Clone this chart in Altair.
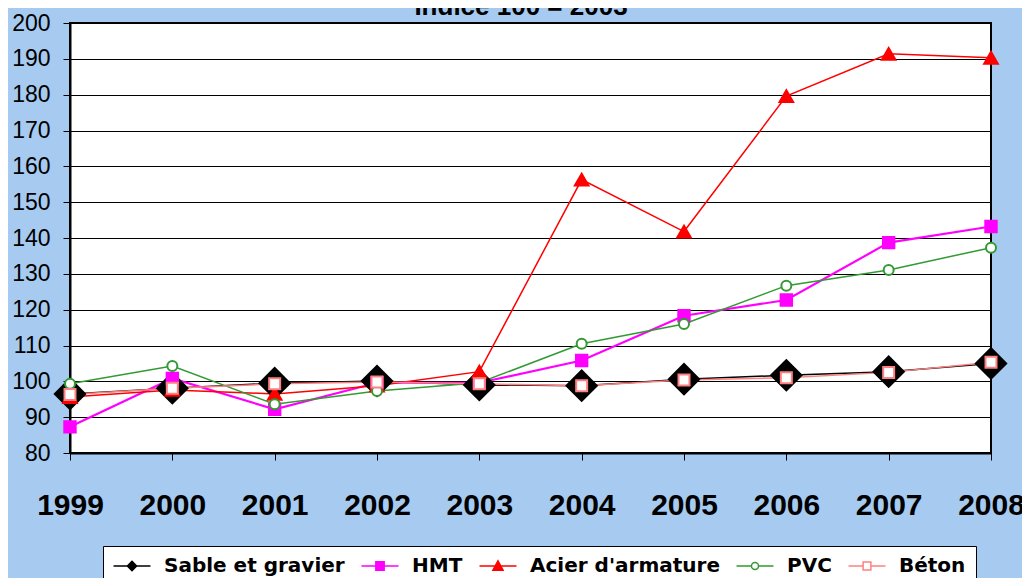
import altair as alt
import pandas as pd

title_text = ["Indice 100 = 2003"]
years = [1999, 2000, 2001, 2002, 2003, 2004, 2005, 2006, 2007, 2008]
series_names = ["Sable et gravier", "HMT", "Acier d'armature", "PVC", "Béton"]
sable = [96.5, 98.1, 99.5, 100.1, 99.0, 98.8, 100.6, 101.7, 102.7, 105.0]
hmt = [87.3, 100.8, 92.2, 99.6, 99.6, 105.8, 118.3, 122.7, 138.7, 143.2]
acier = [95.6, 97.6, 96.5, 98.8, 102.7, 156.3, 141.8, 179.6, 191.4, 190.3]
pvc = [99.3, 104.3, 93.6, 97.3, 99.6, 110.5, 116.0, 126.7, 131.1, 137.3]
beton = [96.3, 98.1, 99.3, 99.8, 99.3, 98.8, 100.4, 101.0, 102.5, 105.3]
y_ticks = [80, 90, 100, 110, 120, 130, 140, 150, 160, 170, 180, 190, 200]

colors = ["#000000", "#FF00FF", "#FF0000", "#339933", "#FF8080"]
fills = ["#000000", "#FF00FF", "#FF0000", "#FFFFFF", "#FFFFFF"]
shapes = ["diamond", "square", "triangle-up", "circle", "square"]
sizes = [920, 130, 185, 100, 121]
widths = [1.5, 2.2, 1.5, 1.5, 1.5]
legend_paths = [
    "M-2,0H2M-0.5,0L0,-0.5L0.5,0L0,0.5Z",
    "M-2,0H2M-0.45,-0.45H0.45V0.45H-0.45Z",
    "M-2,0H2M0,-0.55L0.55,0.45H-0.55Z",
    "M-2,0H-0.38M0.38,0H2M-0.38,0A0.38,0.38,0,1,0,0.38,0A0.38,0.38,0,1,0,-0.38,0Z",
    "M-2,0H-0.42M0.42,0H2M-0.42,-0.42H0.42V0.42H-0.42Z",
]

rows = []
for name, vals in zip(series_names, [sable, hmt, acier, pvc, beton]):
    for yr, v in zip(years, vals):
        rows.append({"Année": yr, "Indice": v, "Série": name})
df = pd.DataFrame(rows)

x = alt.X(
    "Année:Q",
    scale=alt.Scale(domain=[1999, 2008], nice=False, zero=False),
    axis=alt.Axis(
        values=years, format="d", title=None, labelFontSize=30,
        labelFont="Liberation Sans", labelFontWeight="bold", labelColor="black",
        labelPadding=30, labelFlush=False, labelOverlap=False, tickSize=7,
        tickColor="black", tickWidth=1, domainColor="black", domainWidth=2, grid=False,
    ),
)
y = alt.Y(
    "Indice:Q",
    scale=alt.Scale(domain=[80, 200], nice=False, zero=False),
    axis=alt.Axis(
        values=y_ticks, title=None, labelFontSize=23, labelFont="Liberation Sans",
        labelColor="black", labelPadding=13, tickSize=7, tickColor="black",
        domainColor="black", domainWidth=2, grid=True, gridColor="black",
        gridWidth=1, gridOpacity=1,
    ),
)

base = alt.Chart(df)

lines = base.mark_line().encode(
    x=x, y=y,
    color=alt.Color("Série:N", scale=alt.Scale(domain=series_names, range=colors), legend=None),
    strokeWidth=alt.StrokeWidth("Série:N", scale=alt.Scale(type="ordinal", domain=series_names, range=widths), legend=None),
    detail="Série:N",
)

points = base.mark_point(opacity=1, strokeWidth=2).encode(
    x=x, y=y,
    shape=alt.Shape("Série:N", scale=alt.Scale(domain=series_names, range=shapes), legend=None),
    stroke=alt.Stroke("Série:N", scale=alt.Scale(domain=series_names, range=colors), legend=None),
    fill=alt.Fill("Série:N", scale=alt.Scale(domain=series_names, range=fills), legend=None),
    size=alt.Size("Série:N", scale=alt.Scale(type="ordinal", domain=series_names, range=sizes), legend=None),
)

leg = dict(
    orient="none", legendX=33, legendY=523, direction="horizontal", columns=5,
    title=None, symbolSize=342, symbolStrokeWidth=1.5, symbolOpacity=1,
    symbolOffset=9,
    labelFont="DejaVu Sans", labelFontSize=20, labelFontWeight="bold",
    labelColor="black", fillColor="white", strokeColor="black", padding=10,
    columnPadding=13, labelOffset=22, labelLimit=400,
)

legend_layer = base.mark_point(opacity=0, strokeWidth=1.5).encode(
    x=x, y=y,
    shape=alt.Shape("Série:N", scale=alt.Scale(domain=series_names, range=legend_paths), legend=alt.Legend(**leg)),
    stroke=alt.Stroke("Série:N", scale=alt.Scale(domain=series_names, range=colors), legend=alt.Legend(**leg)),
    fill=alt.Fill("Série:N", scale=alt.Scale(domain=series_names, range=fills), legend=alt.Legend(**leg)),
)

title_layer = alt.Chart(pd.DataFrame({"titre": title_text})).mark_text(
    font="Liberation Sans", fontSize=26, fontWeight="bold", color="black",
    align="center", baseline="alphabetic",
).encode(text="titre:N", x=alt.value(451), y=alt.value(-8))

chart = (
    alt.layer(lines, points, legend_layer, title_layer)
    .resolve_scale(shape="independent", stroke="independent", fill="independent")
    .properties(
        width=921, height=430,
        padding={"left": 62, "top": 15, "right": 31, "bottom": 125},
        autosize=alt.AutoSizeParams(type="none"),
        background="#A6CAF0",
    )
    .configure_view(fill="white", stroke="black", strokeWidth=2)
)

chart.save("out.html", embed_options={"renderer": "svg", "actions": False})
